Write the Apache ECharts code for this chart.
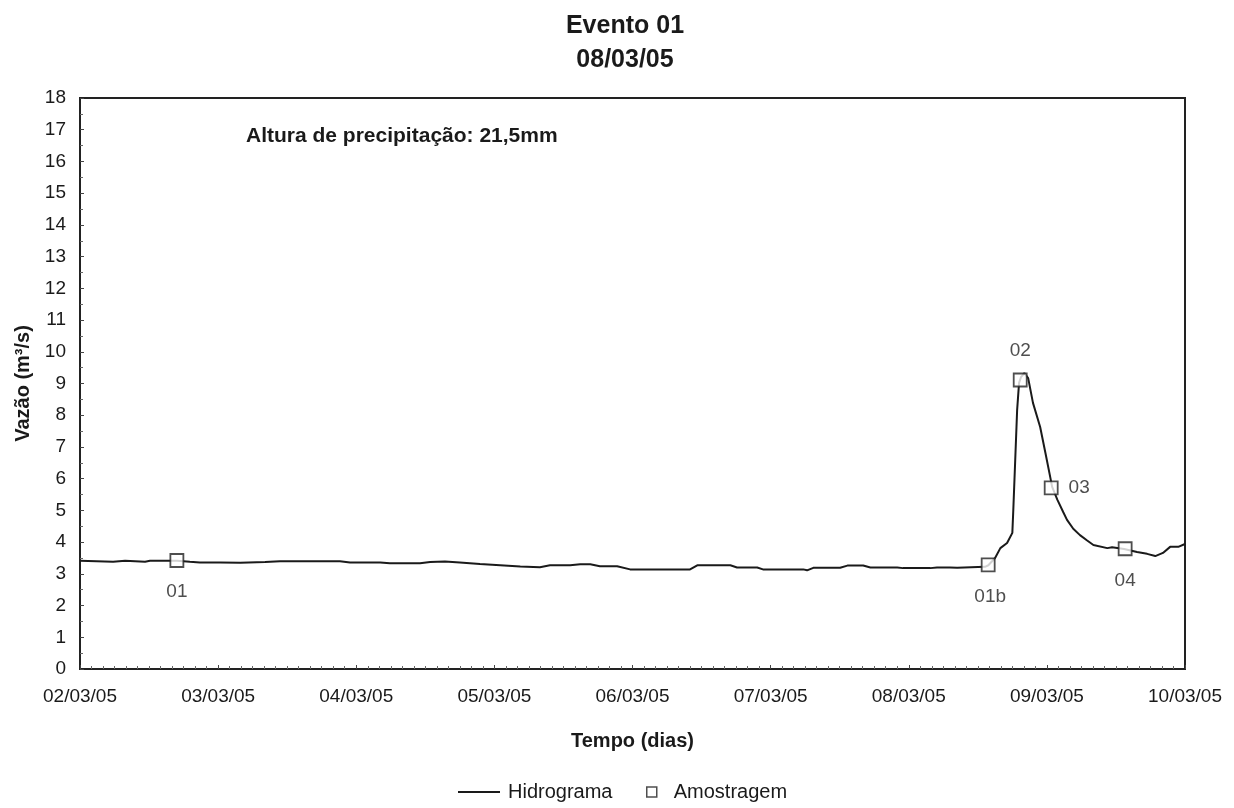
<!DOCTYPE html>
<html>
<head>
<meta charset="utf-8">
<script src="https://cdn.jsdelivr.net/npm/echarts@6/dist/echarts.min.js"></script>
<style>html,body{margin:0;padding:0;background:#fff}#c{width:1234px;height:808px}</style>
</head>
<body>
<div id="c"></div>
<script>
// Hydrograph (Hidrograma): timestamps and discharge (m3/s)
var flowTimes = [
"2005-03-02 00:00","2005-03-02 05:45","2005-03-02 07:50","2005-03-02 11:18","2005-03-02 12:10","2005-03-02 16:50",
"2005-03-02 19:05","2005-03-02 20:50","2005-03-03 00:20","2005-03-03 03:50","2005-03-03 08:10","2005-03-03 10:45",
"2005-03-03 21:10","2005-03-03 22:55","2005-03-04 04:10","2005-03-04 05:50","2005-03-04 11:05","2005-03-04 12:50",
"2005-03-04 15:25","2005-03-04 18:00","2005-03-04 21:30","2005-03-05 01:00","2005-03-05 04:30","2005-03-05 07:55",
"2005-03-05 09:40","2005-03-05 13:10","2005-03-05 14:55","2005-03-05 16:40","2005-03-05 18:20","2005-03-05 21:20",
"2005-03-05 23:35","2005-03-06 10:00","2005-03-06 11:15","2005-03-06 17:00","2005-03-06 18:10","2005-03-06 21:40",
"2005-03-06 22:40","2005-03-07 05:40","2005-03-07 06:20","2005-03-07 07:25","2005-03-07 12:05","2005-03-07 13:20",
"2005-03-07 16:05","2005-03-07 17:20","2005-03-07 22:00","2005-03-07 23:00","2005-03-08 03:45","2005-03-08 04:55",
"2005-03-08 07:10","2005-03-08 08:25","2005-03-08 13:15","2005-03-08 13:50","2005-03-08 15:00","2005-03-08 15:55",
"2005-03-08 17:05","2005-03-08 18:00","2005-03-08 18:10","2005-03-08 18:30","2005-03-08 18:50","2005-03-08 19:10",
"2005-03-08 19:30","2005-03-08 20:05","2005-03-08 20:45","2005-03-08 21:35","2005-03-08 22:50","2005-03-08 23:45",
"2005-03-09 00:35","2005-03-09 00:55","2005-03-09 01:50","2005-03-09 02:50","2005-03-09 03:30","2005-03-09 04:35",
"2005-03-09 05:45","2005-03-09 07:00","2005-03-09 08:05","2005-03-09 10:30","2005-03-09 11:20","2005-03-09 13:25",
"2005-03-09 15:40","2005-03-09 17:25","2005-03-09 18:50","2005-03-09 20:10","2005-03-09 21:25","2005-03-09 22:50",
"2005-03-10 00:00"
];
var flowValues = [
3.41,3.38,3.41,3.38,3.41,3.41,
3.38,3.36,3.36,3.35,3.37,3.40,
3.40,3.36,3.36,3.33,3.33,3.37,
3.39,3.36,3.31,3.27,3.23,3.21,
3.27,3.27,3.30,3.30,3.24,3.24,
3.14,3.14,3.27,3.27,3.20,3.20,
3.14,3.14,3.11,3.19,3.19,3.26,
3.26,3.20,3.20,3.18,3.18,3.20,
3.20,3.19,3.22,3.27,3.50,3.81,
3.97,4.29,5.01,6.59,8.17,9.02,
9.20,9.33,9.17,8.39,7.63,6.81,
6.05,5.74,5.33,4.95,4.70,4.42,
4.22,4.05,3.91,3.81,3.84,3.78,
3.69,3.63,3.56,3.66,3.85,3.85,
3.94
];
// Samples (Amostragem)
var sampleNames = ["01","01b","02","03","04"];
var sampleTimes = ["2005-03-02 16:50","2005-03-08 13:48","2005-03-08 19:22","2005-03-09 00:45","2005-03-09 13:36"];
var sampleValues = [3.42,3.28,9.11,5.71,3.79];
var startTime = "2005-03-02 00:00";
var dayLabelsSuffix = "/03/05";

function toHours(s){
  var m = s.match(/(\d+)-(\d+)-(\d+) (\d+):(\d+)/);
  var ms = Date.UTC(+m[1], +m[2]-1, +m[3], +m[4], +m[5]);
  return ms/3600000;
}
var h0 = toHours(startTime);
var flowData = flowTimes.map(function(t,i){return [toHours(t)-h0, flowValues[i]];});
var labelOffsets = [[0,31],[2,32],[0,-29],[28,0],[0,32]];
var FONT = 'Liberation Sans';
var sampleData = sampleTimes.map(function(t,i){
  return {value:[toHours(t)-h0, sampleValues[i]], name: sampleNames[i],
    label:{show:true, formatter: sampleNames[i], position:'inside', offset: labelOffsets[i],
      color:'#222', fontSize:19, fontFamily:FONT}};
});

var chart = echarts.init(document.getElementById('c'), null, {renderer:'canvas'});
chart.setOption({
  animation:false,
  backgroundColor:'#fff',
  title:{text:'Evento 01\n08/03/05', left:620, textAlign:'center', top:4,
    textStyle:{fontFamily:FONT, fontSize:25, fontWeight:'bold', color:'#1a1a1a', lineHeight:34}},
  graphic:[{type:'text', left:246, top:126, style:{text:'Altura de precipitação: 21,5mm',
    font:'bold 21px "Liberation Sans"', fill:'#1a1a1a'}}],
  legend:[
    {data:['Hidrograma'], left:453, top:777, icon:'rect', itemWidth:42, itemHeight:2, itemGap:0,
      textStyle:{fontFamily:FONT, fontSize:20, color:'#1a1a1a', padding:[0,0,0,3]}},
    {data:[{name:'Amostragem', icon:'rect', itemStyle:{color:'#fff', borderColor:'#222', borderWidth:1.5}}],
      left:641, top:777, itemWidth:10, itemHeight:10, textStyle:{fontFamily:FONT, fontSize:20, color:'#1a1a1a', padding:[0,0,0,12]}}
  ],
  grid:{left:80, right:49, top:98, bottom:139, show:true, borderColor:'#222', borderWidth:2, backgroundColor:'transparent'},
  xAxis:{type:'value', min:0, max:192, interval:24,
    name:'Tempo (dias)', nameLocation:'middle', nameGap:62,
    nameTextStyle:{fontFamily:FONT, fontSize:20, fontWeight:'bold', color:'#1a1a1a'},
    axisLine:{show:true, lineStyle:{color:'#222', width:2}},
    axisTick:{show:true, inside:true, length:4, lineStyle:{color:'#444'}},
    minorTick:{show:true, splitNumber:12, length:3, lineStyle:{color:'#666'}},
    splitLine:{show:false},
    axisLabel:{fontFamily:FONT, fontSize:19, color:'#1a1a1a', margin:18,
      formatter:function(v){var d=2+Math.round(v/24); return (d<10?'0':'')+d+dayLabelsSuffix;}}
  },
  yAxis:{type:'value', min:0, max:18, interval:1,
    name:'Vazão (m³/s)', nameLocation:'middle', nameGap:37,
    nameTextStyle:{fontFamily:FONT, fontSize:20, fontWeight:'bold', color:'#1a1a1a'},
    axisLine:{show:true, lineStyle:{color:'#222', width:2}},
    axisTick:{show:true, inside:true, length:4, lineStyle:{color:'#444'}},
    minorTick:{show:true, splitNumber:2, length:3, lineStyle:{color:'#666'}},
    splitLine:{show:false},
    axisLabel:{fontFamily:FONT, fontSize:19, color:'#1a1a1a', margin:14}
  },
  series:[
    {name:'Hidrograma', type:'line', data:flowData, showSymbol:false, symbol:'none',
      lineStyle:{color:'#1a1a1a', width:2}, itemStyle:{color:'#1a1a1a'}, z:2},
    {name:'Amostragem', type:'scatter', data:sampleData, symbol:'rect', symbolSize:13,
      itemStyle:{color:'#fff', borderColor:'#222', borderWidth:1.8}, z:3}
  ]
});
</script>
</body>
</html>
